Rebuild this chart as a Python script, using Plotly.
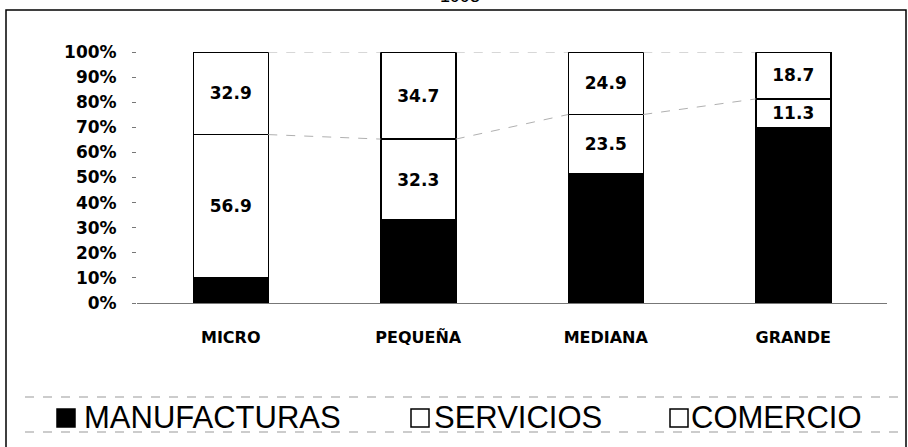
import plotly.graph_objects as go

categories = ["MICRO", "PEQUEÑA", "MEDIANA", "GRANDE"]
manufacturas = [10.2, 33.0, 51.6, 70.0]
servicios = [56.9, 32.3, 23.5, 11.3]
comercio = [32.9, 34.7, 24.9, 18.7]
y_ticks = [0, 10, 20, 30, 40, 50, 60, 70, 80, 90, 100]
y_ticktext = [f"{v}%" for v in y_ticks]
series_names = ["MANUFACTURAS", "SERVICIOS", "COMERCIO"]
series_colors = ["black", "white", "white"]
title_text = "1993"

W, H = 908, 447
L, R, T, B = 137, 21, 52, 144
pw, ph = W - L - R, H - T - B
def px(x): return (x - L) / pw
def py(y): return 1 - (y - T) / ph

xs = list(range(len(categories)))
bw = 0.4
bold = "DejaVu Sans, Arial, sans-serif"
reg = "Liberation Sans, Arial, sans-serif"

fig = go.Figure()
for name, vals, col in zip(series_names, [manufacturas, servicios, comercio], series_colors):
    kw = {}
    if col == "white":
        kw = dict(text=[f"{v:.1f}" for v in vals], textposition="inside",
                  insidetextanchor="middle",
                  textfont=dict(family=bold, size=17, color="black", weight="bold"))
    fig.add_bar(x=xs, y=vals, name=name, width=bw, showlegend=False,
                marker=dict(color=col, line=dict(color="black", width=1.5)), **kw)

# series lines between bars (derived from data)
cum_mid = [m + s for m, s in zip(manufacturas, servicios)]
cum_top = [m + s + c for m, s, c in zip(manufacturas, servicios, comercio)]
for series in (cum_mid, cum_top):
    for i in range(len(categories) - 1):
        fig.add_scatter(x=[xs[i] + bw / 2, xs[i + 1] - bw / 2],
                        y=[series[i], series[i + 1]], mode="lines",
                        line=dict(color="#b0b0b0", width=1, dash="dash"),
                        showlegend=False, hoverinfo="skip")

shapes = [
    dict(type="rect", xref="paper", yref="paper",
         x0=px(6), x1=px(906), y0=py(470), y1=py(10),
         line=dict(color="black", width=1.5), layer="below"),
    dict(type="line", xref="paper", yref="paper",
         x0=px(25), x1=px(906), y0=py(397), y1=py(397),
         line=dict(color="#999", width=1, dash="dash")),
    dict(type="line", xref="paper", yref="paper",
         x0=px(25), x1=px(906), y0=py(432), y1=py(432),
         line=dict(color="#999", width=1, dash="dash")),
]
annotations = [dict(text=title_text, xref="paper", yref="paper",
                    x=px(460), y=py(8), xanchor="center", yanchor="bottom",
                    showarrow=False, font=dict(family=reg, size=18))]

# manual legend
legend_sq_x = [57, 411, 670]
legend_txt_x = [82, 432, 689]
for name, col, sx, tx in zip(series_names, series_colors, legend_sq_x, legend_txt_x):
    shapes.append(dict(type="rect", xref="paper", yref="paper",
                       x0=px(sx), x1=px(sx + 18), y0=py(427), y1=py(409),
                       fillcolor=col, line=dict(color="black", width=1.5)))
    annotations.append(dict(text=name, xref="paper", yref="paper",
                            x=px(tx), y=py(417), xanchor="left", yanchor="middle",
                            showarrow=False,
                            font=dict(family=reg, size=31, color="black")))

fig.update_layout(
    barmode="stack", width=W, height=H,
    margin=dict(l=L, r=R, t=T, b=B),
    paper_bgcolor="white", plot_bgcolor="white",
    font=dict(family=bold, color="black"),
    showlegend=False,
    xaxis=dict(range=[-0.5, 3.5], tickvals=xs, ticktext=categories,
               showgrid=False, zeroline=False, showline=True,
               linecolor="#777", linewidth=1, ticks="outside", ticklen=0,
               ticklabelstandoff=20,
               tickfont=dict(family=bold, size=16, weight="bold")),
    yaxis=dict(range=[0, 100], tickvals=y_ticks, ticktext=y_ticktext,
               showgrid=False, zeroline=False, showline=False,
               ticks="outside", ticklen=4, tickcolor="#777",
               ticklabelstandoff=12,
               tickfont=dict(family=bold, size=17, weight="bold")),
    shapes=shapes,
    annotations=annotations,
)
fig.write_html("out.html", config={"displayModeBar": False},
               post_script="document.body.style.margin='0';")
